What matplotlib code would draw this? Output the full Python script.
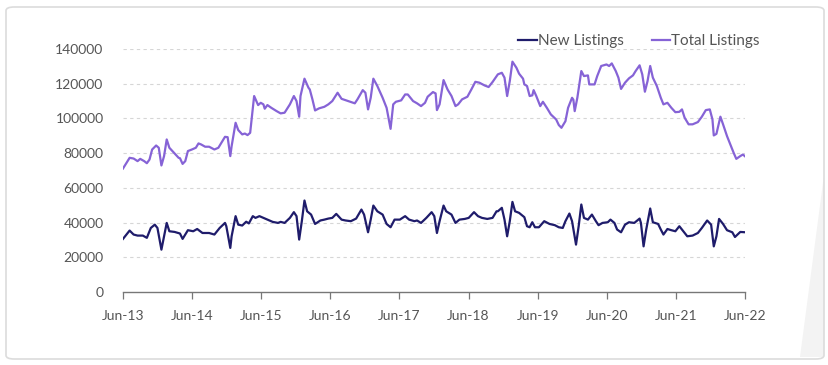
import matplotlib
matplotlib.use("Agg")
import matplotlib.pyplot as plt
from matplotlib.patches import FancyBboxPatch, Polygon
import pandas as pd

plt.rcParams['font.family'] = ['Lato', 'DejaVu Sans']

start_date = "2013-06-01"
tick_labels = ["Jun-13", "Jun-14", "Jun-15", "Jun-16", "Jun-17",
               "Jun-18", "Jun-19", "Jun-20", "Jun-21", "Jun-22"]
tick_dates = ["2013-06-01", "2014-06-01", "2015-06-01", "2016-06-01", "2017-06-01",
              "2018-06-01", "2019-06-01", "2020-06-01", "2021-06-01", "2022-06-01"]

# Weeks since start / values
total_weeks = [0, 5, 8, 11, 13, 16, 18, 20, 22, 25, 27, 29, 31, 33, 35, 39, 42, 43, 45, 47,
               49, 52, 55, 57, 59, 62, 65, 69, 72, 74, 77, 79, 81, 82, 85, 87, 90, 92, 94,
               96, 99, 102, 104, 106, 107, 109, 112, 116, 119, 122, 126, 129, 131, 133, 134,
               137, 140, 141, 143, 145, 148, 152, 155, 158, 162, 165, 170, 175, 177, 181,
               183, 185, 187, 189, 192, 196, 199, 202, 204, 206, 210, 213, 215, 219, 222,
               225, 228, 230, 234, 236, 237, 239, 242, 245, 248, 251, 253, 256, 260, 263,
               266, 269, 273, 276, 279, 283, 286, 288, 290, 292, 294, 297, 299, 302, 303,
               305, 307, 309, 310, 312, 315, 317, 320, 323, 327, 329, 331, 334, 336, 339,
               340, 341, 343, 346, 348, 351, 352, 356, 358, 361, 365, 367, 369, 372, 374,
               376, 379, 382, 385, 387, 390, 392, 394, 396, 398, 400, 403, 406, 408, 411,
               414, 417, 420, 422, 424, 427, 430, 434, 437, 440, 443, 445, 446, 448, 451,
               453, 456, 459, 461, 463, 466, 468, 470]
total_values = [71150, 77300, 76900, 75400, 76700, 75400, 74200, 76300, 82100, 84400, 83100,
                72900, 78300, 87900, 83100, 79800, 77300, 77100, 73800, 75400,
                81200, 82100, 83100, 85600, 85000, 83700, 83700, 82100, 83100, 85600, 89400,
                89200, 78300, 84000, 97500, 93300, 90800, 91300, 90400,
                91700, 112900, 107700, 109000, 108100, 105600, 107700, 106100, 104200, 102900,
                103300, 108100, 112900, 110000, 101000, 112900,
                122900, 117700, 116700, 111000, 104600, 105800, 106700, 108100, 110000, 114800,
                111300, 110000, 108700, 111000, 116300,
                114800, 105200, 111900, 122900, 118700, 111900, 106100, 94000, 108100, 109600,
                110400, 113800, 113800, 110000, 108700,
                107100, 109000, 112500, 115200, 114400, 104800, 108100, 122100, 116700, 112900,
                107100, 108100, 111000, 112500, 116700,
                121100, 120600, 119000, 118100, 121000, 125400, 126300, 123500, 112900, 121500,
                132700, 129200, 125800, 122900, 119600,
                118700, 112900, 113300, 116300, 112900, 107100, 109600, 106100, 102300, 99400,
                96200, 94600, 98400, 106100, 111900,
                110800, 104200, 111900, 127300, 124400, 124800, 119600, 119600, 124400, 130200,
                131100, 130200, 131700, 127300, 123500,
                117000, 120600, 123100, 124800, 127300, 130600, 125400, 115400, 121500, 130200,
                123500, 118700, 111900, 108100, 109000,
                106100, 103600, 103800, 105200, 100400, 96600, 96600, 97900, 101000, 104800,
                105200, 99400, 90200, 91100, 101000,
                96600, 89800, 84000, 80200, 76700, 78300, 79200, 77900]

new_weeks = [0, 5, 8, 11, 15, 18, 21, 24, 26, 29, 31, 33, 35, 39, 43, 45, 49, 53, 56, 60,
             65, 69, 73, 77, 78, 81, 82, 85, 87, 90, 93, 95, 98, 100, 103, 106, 109, 113,
             117, 119, 122, 126, 129, 131, 133, 135, 137, 139, 142, 145, 149, 152, 155, 158,
             161, 165, 168, 172, 176, 180, 182, 185, 187, 189, 192, 196, 199, 202, 205, 209,
             213, 216, 220, 222, 225, 229, 233, 235, 237, 239, 242, 244, 248, 251, 254, 258,
             261, 265, 268, 271, 275, 279, 282, 283, 286, 288, 290, 292, 294, 296, 299, 303,
             305, 307, 309, 311, 314, 318, 322, 326, 329, 332, 334, 337, 339, 342, 344, 346,
             348, 351, 354, 357, 359, 362, 366, 368, 371, 373, 376, 379, 382, 386, 390, 391,
             393, 395, 398, 400, 404, 406, 408, 411, 414, 417, 420, 423, 426, 430, 434, 437,
             441, 444, 446, 448, 450, 453, 456, 460, 462, 466, 470]
new_values = [30600, 35400, 33100, 32500, 32500, 31200, 36900, 38800, 36900, 24400, 32100,
              39800, 35000, 34600, 33700, 30600, 35600, 35000, 36300, 34000,
              34000, 33100, 36900, 39800, 37900, 25400, 32100, 43700, 38800, 38300, 40500,
              39500, 43700, 42700, 43700, 42700, 41700, 40400,
              39800, 40400, 39800, 42700, 46000, 43700, 30200, 40800, 52700, 46500, 44600,
              39200, 41200, 41700, 42300, 42700,
              45000, 41700, 41200, 40800, 42300, 47500, 44600, 34400, 41700, 49800, 46500,
              44600, 39200, 37300, 41700, 41700,
              43700, 41700, 40800, 41200, 39800, 42700, 46000, 43700, 34000, 40800, 49800,
              46500, 44600, 39800, 41700, 42100,
              42700, 46000, 43700, 42700, 42100, 42700, 46500, 46500, 48500, 41700, 32100,
              40800, 51900, 46500, 45600, 43100,
              37900, 37300, 40200, 37300, 37300, 40800, 39200, 38500, 37300, 36900, 40800,
              45200, 40800, 27300, 37900, 50400,
              42700, 41700, 44600, 40800, 38500, 39800, 40200, 41700, 39800, 36000, 34400,
              38800, 40200, 39800, 42300, 39800,
              26300, 36000, 48100, 40200, 39200, 36000, 33100, 36300, 35600, 35000, 37900,
              35000, 32100, 32500, 34000, 36900,
              41200, 38800, 26300, 32100, 42100, 39200, 35600, 34400, 31700, 34600, 34400]

navy = "#1f1c6b"
purple = "#8663d6"
text_col = "#555555"

t0 = pd.Timestamp(start_date)
total_dates = [t0 + pd.Timedelta(weeks=w) for w in total_weeks]
new_dates = [t0 + pd.Timedelta(weeks=w) for w in new_weeks]

fig = plt.figure(figsize=(8.29, 3.65), dpi=100)
W, H = 829, 365

# outer frame
frame = FancyBboxPatch((6 / W, 6 / H), (824 - 6) / W, (358 - 6) / H,
                       boxstyle="round,pad=0,rounding_size=0.01",
                       transform=fig.transFigure, facecolor="none",
                       edgecolor="#dcdcdc", linewidth=1.2, zorder=-10)
fig.patches.append(frame)
deco = Polygon([(800 / W, 1 - 357 / H), (824 / W, 1 - 175 / H), (824 / W, 1 - 357 / H)],
               closed=True, transform=fig.transFigure, facecolor="#f3f3f3",
               edgecolor="none", zorder=-11)
fig.patches.append(deco)

ax = fig.add_axes([123 / W, 1 - 292 / H, (745 - 123) / W, (292 - 49) / H])
ax.set_facecolor("none")
ax.set_zorder(5)

l1, = ax.plot(new_dates, new_values, color=navy, lw=1.6, label="New Listings",
              solid_joinstyle="round", zorder=3)
l2, = ax.plot(total_dates, total_values, color=purple, lw=1.6, label="Total Listings",
              solid_joinstyle="round", zorder=3)

ax.set_ylim(0, 140000)
ax.set_xlim(pd.Timestamp(tick_dates[0]), pd.Timestamp(tick_dates[-1]))
ax.set_yticks(range(0, 140001, 20000))
ax.set_yticklabels([str(v) for v in range(0, 140001, 20000)])
ax.set_xticks([pd.Timestamp(d) for d in tick_dates])
ax.set_xticklabels(tick_labels)

for v in range(20000, 140001, 20000):
    ax.axhline(v, color="#d6d6d6", lw=0.8, ls=(0, (3, 3)), zorder=0)

for s in ["top", "right", "left"]:
    ax.spines[s].set_visible(False)
ax.spines["bottom"].set_color("#777777")
ax.spines["bottom"].set_linewidth(1.0)

ax.tick_params(axis="y", length=0, pad=14, labelsize=10, labelcolor=text_col)
ax.tick_params(axis="x", length=5, width=0.9, color="#777777", pad=8,
               labelsize=10, labelcolor=text_col)

fig.legend(handles=[l1, l2], loc="center right",
           bbox_to_anchor=(766 / W, 1 - 41 / H), ncol=2, frameon=False,
           handlelength=1.2, handletextpad=0.1, columnspacing=1.8,
           fontsize=11, labelcolor=text_col, borderaxespad=0)

fig.savefig("out.png", dpi=100)
